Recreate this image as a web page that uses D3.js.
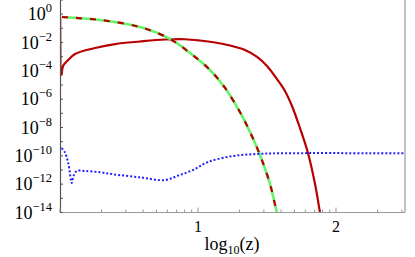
<!DOCTYPE html>
<meta charset="utf-8">
<style>
  body { margin: 0; background: #fff; }
  text { font-family: "Liberation Serif", "DejaVu Serif", serif; fill: #000; }
</style>
<script src="https://d3js.org/d3.v7.min.js"></script>
<svg width="415" height="257"></svg>
<script>
const svg = d3.select('svg');

// x = log10(z), y = log10 of the quantity
const dampX = [0.0145, 0.29, 0.58, 0.797, 0.942, 1.087, 1.196, 1.304, 1.377, 1.449, 1.522, 1.572, 1.616];
const dampY = [-0.2, -0.41, -0.91, -1.75, -2.74, -3.94, -5.21, -6.91, -8.32, -9.94, -11.99, -14, -15.38];

const peakX = [0.001, 0.011, 0.022, 0.051, 0.109, 0.254, 0.399, 0.58, 0.761, 0.906, 1.014, 1.123, 1.232, 1.341, 1.428, 1.5, 1.572, 1.63, 1.681, 1.739, 1.797, 1.848, 1.884, 1.913];
const peakY = [-0.2, -4.29, -3.66, -3.31, -2.81, -2.39, -2.11, -1.93, -1.79, -1.77, -1.86, -2.0, -2.21, -2.53, -3.02, -3.66, -4.58, -5.42, -6.48, -8.04, -9.8, -11.99, -14, -15.6];

const floorX = [0.001, 0.007, 0.033, 0.06, 0.085, 0.096, 0.121, 0.181, 0.29, 0.384, 0.58, 0.761, 0.855, 0.964, 1.072, 1.254, 1.428, 1.594, 2.5];
const floorY = [-14.5, -9.47, -9.71, -10.53, -11.92, -11.47, -11.07, -11.07, -11.16, -11.3, -11.52, -11.71, -11.4, -11.0, -10.44, -10.01, -9.87, -9.82, -9.82];

const yExps = [0, -2, -4, -6, -8, -10, -12, -14];
const xMajor = [1, 2];

const pl = 60, pr = 405, pt = 0, pb = 212.5;

const x = d3.scaleLinear().domain([0, 2.5]).range([pl, pr]);
const y = d3.scaleLog().domain([1e-14, 10]).range([pb, pt]);

const pts = (xs, ys) => xs.map((v, i) => [v, Math.pow(10, ys[i])]);
const line = d3.line().x(d => x(d[0])).y(d => y(d[1])).curve(d3.curveCatmullRom.alpha(0.5));

svg.append('clipPath').attr('id', 'clip')
  .append('rect').attr('x', pl).attr('y', pt).attr('width', pr - pl).attr('height', pb - pt);

const g = svg.append('g').attr('clip-path', 'url(#clip)');

g.append('path').attr('d', line(pts(peakX, peakY)))
  .attr('fill', 'none').attr('stroke', '#b80000').attr('stroke-width', 2.2);

g.append('path').attr('d', line(pts(dampX, dampY)))
  .attr('fill', 'none').attr('stroke', '#66f266').attr('stroke-width', 2.6);
g.append('path').attr('d', line(pts(dampX, dampY)))
  .attr('fill', 'none').attr('stroke', '#b80000').attr('stroke-width', 2.2)
  .attr('stroke-dasharray', '6,8');

g.append('path').attr('d', line(pts(floorX, floorY)))
  .attr('fill', 'none').attr('stroke', '#1f1fff').attr('stroke-width', 2)
  .attr('stroke-dasharray', '2,2');

// frame
svg.append('line').attr('x1', pl).attr('x2', pr).attr('y1', pb).attr('y2', pb)
  .attr('stroke', '#999').attr('stroke-width', 1.2);
svg.append('line').attr('x1', pr).attr('x2', pr).attr('y1', pt).attr('y2', pb)
  .attr('stroke', '#999').attr('stroke-width', 1.2);
svg.append('line').attr('x1', pl + 0.5).attr('x2', pl + 0.5).attr('y1', pt).attr('y2', pb)
  .attr('stroke', '#555').attr('stroke-width', 1.2);

// x ticks: log10 of z
const xTicks = [];
for (let n = 0; n < 3; n++) {
  for (let k = 1; k < 10; k++) {
    const v = n + Math.log10(k);
    if (v <= 2.5) xTicks.push({ v: v, major: k === 1 });
  }
}
svg.selectAll('.xt').data(xTicks).enter().append('line')
  .attr('x1', d => x(d.v)).attr('x2', d => x(d.v))
  .attr('y1', pb).attr('y2', d => pb - (d.major ? 5 : 3))
  .attr('stroke', '#999').attr('stroke-width', 1);

svg.selectAll('.xl').data(xMajor).enter().append('text')
  .attr('x', d => x(d)).attr('y', 232)
  .attr('text-anchor', 'middle').attr('font-size', 16)
  .text(d => d);

const title = svg.append('text').attr('x', 232).attr('y', 250)
  .attr('text-anchor', 'middle').attr('font-size', 18);
title.append('tspan').text('log');
title.append('tspan').attr('font-size', 12).attr('dy', 4).text('10');
title.append('tspan').attr('dy', -4).text('(z)');

// y ticks and labels
svg.selectAll('.yt').data(d3.range(-14, 2)).enter().append('line')
  .attr('x1', pl).attr('x2', pl + 3)
  .attr('y1', d => y(Math.pow(10, d))).attr('y2', d => y(Math.pow(10, d)))
  .attr('stroke', '#555').attr('stroke-width', 1);

const yl = svg.selectAll('.yl').data(yExps).enter().append('text')
  .attr('x', 52).attr('y', d => y(Math.pow(10, d)) + 6)
  .attr('text-anchor', 'end').attr('font-size', 18);
yl.append('tspan').text('10');
yl.append('tspan').attr('font-size', 12.5).attr('dy', -8)
  .text(d => d === 0 ? '0' : '\u2212' + Math.abs(d));
</script>
